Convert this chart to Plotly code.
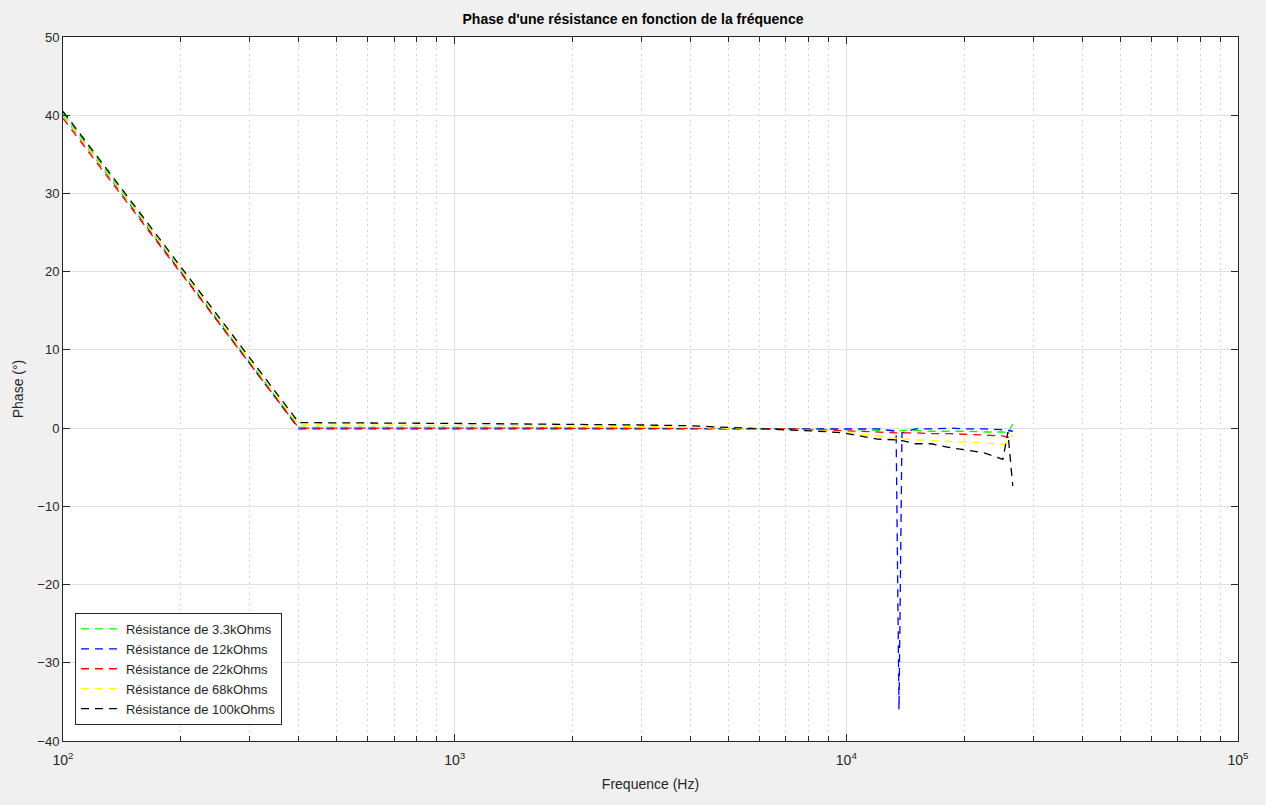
import plotly.graph_objects as go

freq = [100, 400, 1000, 2000, 3000, 4000, 5000, 6000, 7200, 8500, 9800, 10800,
        12000, 13400, 13630, 13870, 15000, 16500, 18400, 20300, 22600, 25100, 25850, 26600]

phase_3k3 = [40.3, 0.1, 0.1, 0.05, 0.0, 0.0, -0.05, -0.1, -0.1, -0.1, -0.2, -0.2,
             -0.3, -0.3, -0.4, -0.3, -0.3, -0.4, -0.4, -0.4, -0.5, -0.5, -0.6, 0.5]
phase_12k = [40.0, -0.1, -0.1, -0.1, -0.1, -0.1, -0.1, -0.1, -0.1, -0.1, -0.1, -0.1,
             -0.1, -0.4, -36.0, -0.6, -0.1, -0.1, 0.0, -0.1, -0.1, -0.2, -0.3, -0.4]
phase_22k = [39.6, 0.0, 0.0, 0.0, 0.0, 0.0, -0.05, -0.1, -0.1, -0.2, -0.3, -0.4,
             -0.5, -0.6, -0.7, -0.6, -0.6, -0.7, -0.7, -0.8, -0.9, -1.0, -1.2, -0.8]
phase_68k = [40.0, 0.4, 0.35, 0.3, 0.2, 0.1, 0.0, -0.1, -0.2, -0.3, -0.5, -0.7,
             -1.0, -1.3, -1.5, -1.4, -1.5, -1.6, -1.7, -1.8, -1.9, -2.1, -1.8, -0.8]
phase_100k = [40.5, 0.7, 0.6, 0.5, 0.4, 0.3, 0.1, 0.0, -0.2, -0.4, -0.6, -1.0,
              -1.4, -1.5, -1.7, -1.6, -2.0, -2.0, -2.5, -2.8, -3.2, -4.0, -0.5, -7.4]

series = [
    ("Résistance de 3.3kOhms", phase_3k3, "#00ff00"),
    ("Résistance de 12kOhms", phase_12k, "#0000ff"),
    ("Résistance de 22kOhms", phase_22k, "#ff0000"),
    ("Résistance de 68kOhms", phase_68k, "#ffff00"),
    ("Résistance de 100kOhms", phase_100k, "#000000"),
]

x_major = [100, 1000, 10000, 100000]
x_major_text = ["10<sup>2</sup>", "10<sup>3</sup>", "10<sup>4</sup>", "10<sup>5</sup>"]
x_minor = [m * d for d in (100, 1000, 10000) for m in range(2, 10)]

fig = go.Figure()
for name, vals, color in series:
    fig.add_trace(go.Scatter(x=freq, y=vals, mode="lines", name=name,
                             line=dict(color=color, width=1.3, dash="8px,6px")))

font_main = "Liberation Sans, Arial, sans-serif"
fig.update_layout(
    width=1266, height=805,
    paper_bgcolor="#f0f0f0", plot_bgcolor="#ffffff",
    margin=dict(l=63, r=28, t=37, b=64),
    font=dict(family=font_main, color="#262626", size=13),
    title=dict(text="<b>Phase d'une résistance en fonction de la fréquence</b>",
               x=0.5, xanchor="center", y=0.976, yanchor="middle",
               font=dict(size=14, color="#000000")),
    showlegend=True,
    legend=dict(x=0.0102, y=0.0227, xanchor="left", yanchor="bottom",
                bgcolor="#ffffff", bordercolor="#262626", borderwidth=1,
                font=dict(size=13, color="#262626"), tracegroupgap=0,
                itemwidth=40),
)
fig.update_xaxes(
    type="log", range=[2, 5],
    tickmode="array", tickvals=x_major, ticktext=x_major_text,
    showgrid=True, gridcolor="#e0e0e0", gridwidth=1,
    ticks="inside", ticklen=7, tickcolor="#262626",
    showline=True, linecolor="#262626", linewidth=1, mirror="ticks",
    ticklabelstandoff=6,
    tickfont=dict(size=14),
    minor=dict(tickmode="array", tickvals=x_minor, showgrid=True,
               gridcolor="#d4d4d4", griddash="2px,3.5px", gridwidth=1,
               ticks="inside", ticklen=5, tickcolor="#262626"),
    title=dict(text="Frequence (Hz)", font=dict(size=14), standoff=12),
    zeroline=False,
)
fig.update_yaxes(
    range=[-40, 50], tickmode="array", tickvals=list(range(-40, 51, 10)),
    showgrid=True, gridcolor="#e0e0e0", gridwidth=1,
    ticks="inside", ticklen=7, tickcolor="#262626",
    showline=True, linecolor="#262626", linewidth=1, mirror="ticks",
    title=dict(text="Phase (°)", font=dict(size=14), standoff=10),
    zeroline=False, tickfont=dict(size=13),
)

fig.write_html("out.html")
